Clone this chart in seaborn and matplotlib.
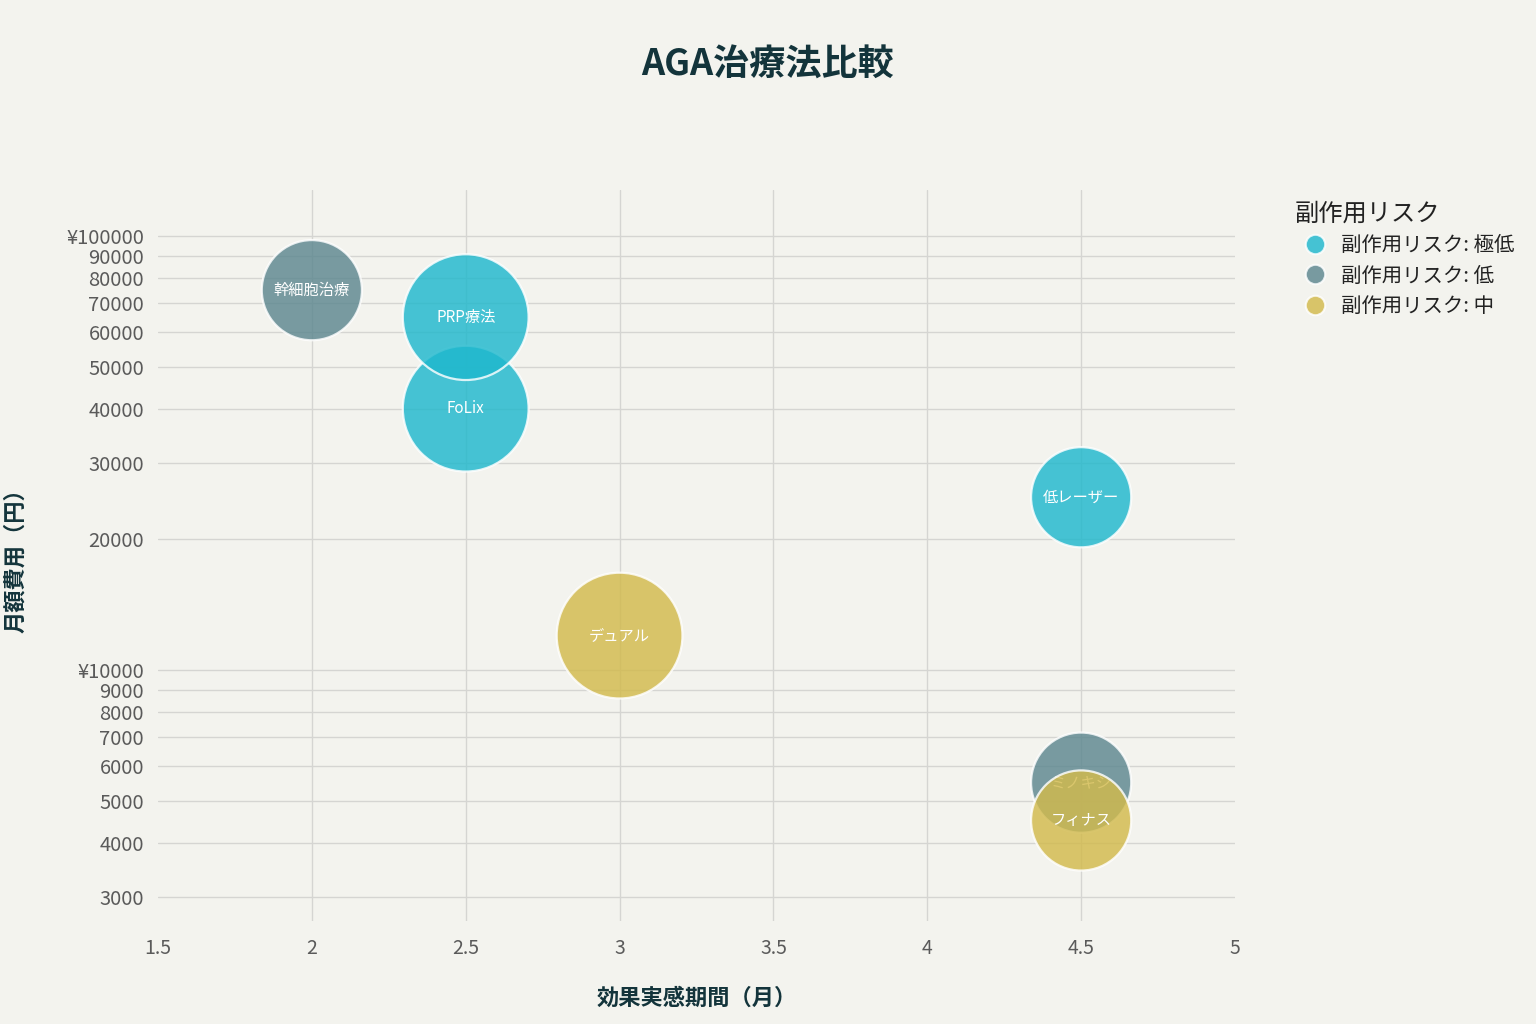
import numpy as np
import pandas as pd
import matplotlib
matplotlib.use("Agg")
import matplotlib.pyplot as plt
from matplotlib.lines import Line2D
import seaborn as sns

# Data
names = ["FoLix", "PRP療法", "低レーザー", "幹細胞治療", "ミノキシ", "デュアル", "フィナス"]
onset_months = [2.5, 2.5, 4.5, 2.0, 4.5, 3.0, 4.5]
monthly_cost = [40000, 65000, 25000, 75000, 5500, 12000, 4500]
effect_level = [3, 3, 2, 2, 2, 3, 2]
risk = ["極低", "極低", "極低", "低", "低", "中", "中"]

risk_order = ["極低", "低", "中"]
colors = {"極低": "#1FB8CD", "低": "#5D878F", "中": "#D2BA4C"}

y_ticks = [3000, 4000, 5000, 6000, 7000, 8000, 9000, 10000,
           20000, 30000, 40000, 50000, 60000, 70000, 80000, 90000, 100000]
y_tick_labels = ["3000", "4000", "5000", "6000", "7000", "8000", "9000", "¥10000",
                 "20000", "30000", "40000", "50000", "60000", "70000", "80000", "90000", "¥100000"]
x_ticks = [1.5, 2, 2.5, 3, 3.5, 4, 4.5, 5]
x_tick_labels = ["1.5", "2", "2.5", "3", "3.5", "4", "4.5", "5"]

df = pd.DataFrame({
    "name": names,
    "onset": onset_months,
    "cost": monthly_cost,
    "effect": effect_level,
    "risk": risk,
})

# Style
sns.set_style("white")
plt.rcParams["font.family"] = ["Noto Sans CJK JP", "DejaVu Sans"]
BG = "#F3F3EE"

fig = plt.figure(figsize=(15.36, 10.24), dpi=100, facecolor=BG)
ax = fig.add_axes([158 / 1536, 1 - 921 / 1024, (1235 - 158) / 1536, (921 - 190) / 1024])
ax.set_facecolor(BG)

# Bubbles, one risk group at a time so later groups cover earlier labels
for i, r in enumerate(risk_order):
    sub = df[df["risk"] == r]
    sns.scatterplot(data=sub, x="onset", y="cost", size="effect",
                    sizes=(5200, 8200), size_norm=(2, 3),
                    color=colors[r], alpha=0.82, edgecolor="white",
                    linewidth=1.6, legend=False, ax=ax, zorder=3 + i)
    for _, row in sub.iterrows():
        ax.text(row["onset"], row["cost"], row["name"], color="white",
                fontsize=11, ha="center", va="center", zorder=3.5 + i)

ax.set_yscale("log")
ax.set_xlim(1.5, 5)
ax.set_ylim(2640, 127600)
ax.set_yticks(y_ticks)
ax.set_yticklabels(y_tick_labels)
ax.yaxis.set_minor_locator(matplotlib.ticker.NullLocator())
ax.set_xticks(x_ticks)
ax.set_xticklabels(x_tick_labels)

ax.grid(True, color="#D5D5D2", linewidth=1.0, zorder=0)
ax.set_axisbelow(True)
gl = ax.xaxis.get_gridlines()
gl[0].set_visible(False)
gl[-1].set_visible(False)
for s in ax.spines.values():
    s.set_visible(False)

ax.tick_params(axis="x", length=6, color="#D5D5D2", labelsize=14,
               labelcolor="#5A5A5A", pad=6)
ax.tick_params(axis="y", length=0, labelsize=14.5, labelcolor="#5A5A5A", pad=10)

ax.set_xlabel("効果実感期間（月）", fontsize=16, fontweight="bold",
              color="#13343B", labelpad=20)
ax.set_ylabel("月額費用（円）", fontsize=16, fontweight="bold",
              color="#13343B", labelpad=28)

fig.text(768 / 1536, 1 - 65 / 1024, "AGA治療法比較", fontsize=26,
         fontweight="bold", color="#13343B", ha="center", va="center")

# Legend
handles = [Line2D([0], [0], marker="o", linestyle="", markersize=14,
                  markerfacecolor=colors[r], markeredgecolor="white",
                  markeredgewidth=1.5, alpha=0.82) for r in risk_order]
labels = ["副作用リスク: " + r for r in risk_order]
leg = fig.legend(handles, labels, title="副作用リスク", loc="upper left",
                 bbox_to_anchor=(1286 / 1536, 1 - 192 / 1024), frameon=False,
                 fontsize=14.7, title_fontsize=17.5, handletextpad=0.3,
                 labelspacing=0.45, borderaxespad=0)
leg._legend_box.align = "left"
for t in leg.get_texts():
    t.set_color("#222222")
leg.get_title().set_color("#222222")

fig.savefig("out.png", dpi=100, facecolor=BG)
